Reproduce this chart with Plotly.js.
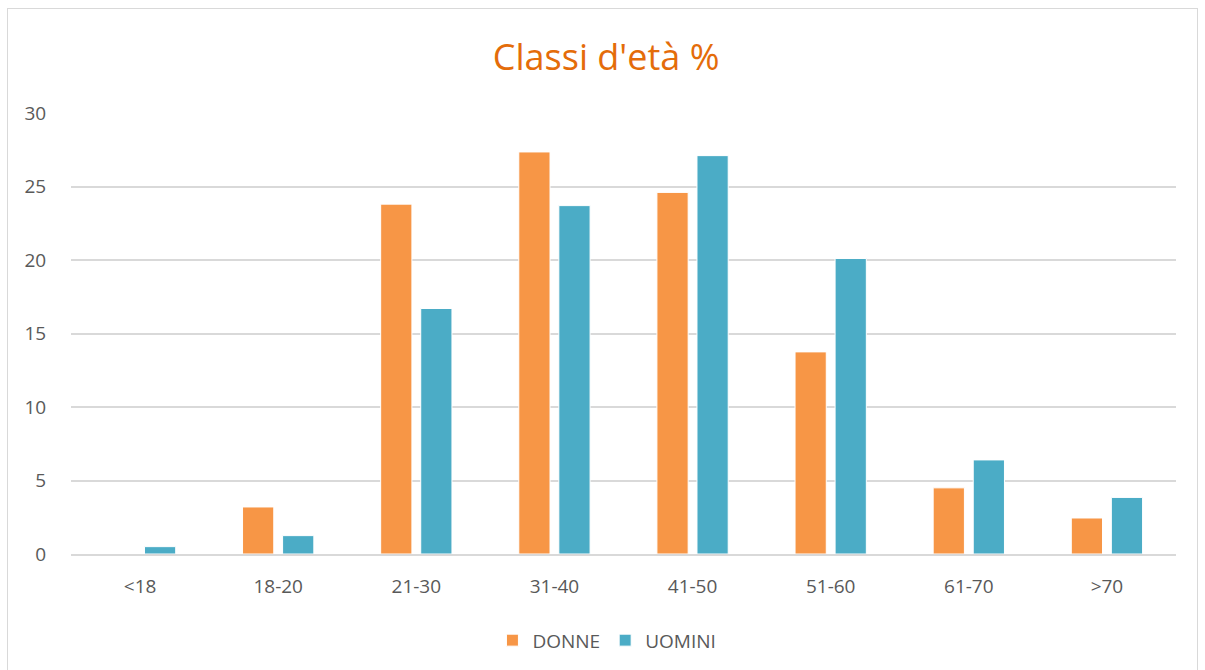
<!DOCTYPE html>
<html>
<head>
<meta charset="utf-8">
<script src="https://cdn.plot.ly/plotly-3.0.1.min.js"></script>
<style>
  html, body { margin: 0; padding: 0; background: #ffffff; }
  #frame { position: absolute; left: 7px; top: 8px; width: 1191px; height: 670px; border: 1px solid #d9d9d9; box-sizing: border-box; }
  #chart { position: absolute; left: 0; top: 0; width: 1205px; height: 670px; }
</style>
</head>
<body>
<div id="frame"></div>
<div id="chart"></div>
<script>
const categories = ["<18", "18-20", "21-30", "31-40", "41-50", "51-60", "61-70", ">70"];
const donne = [0, 3.2, 23.8, 27.35, 24.6, 13.75, 4.5, 2.45];
const uomini = [0.5, 1.25, 16.7, 23.7, 27.1, 20.1, 6.4, 3.85];
const yTicks = [0, 5, 10, 15, 20, 25, 30];

const fontFamily = "'Open Sans', 'Noto Sans', sans-serif";

const traces = [
  { type: 'bar', name: 'DONNE', x: categories, y: donne,
    marker: { color: '#F79646', line: { color: '#ffffff', width: 1 } }, hoverinfo: 'x+y+name' },
  { type: 'bar', name: 'UOMINI', x: categories, y: uomini,
    marker: { color: '#4BACC6', line: { color: '#ffffff', width: 1 } }, hoverinfo: 'x+y+name' }
];

const layout = {
  width: 1205, height: 670,
  paper_bgcolor: 'rgba(0,0,0,0)', plot_bgcolor: 'rgba(0,0,0,0)',
  margin: { l: 71, r: 29, t: 113, b: 115 },
  title: { text: "Classi d'età %", x: 0.503, xref: 'container', y: 0.915, yref: 'container', xanchor: 'center', yanchor: 'middle',
           font: { family: fontFamily, size: 36, color: '#E46C0A' } },
  barmode: 'group', bargap: 0.42, bargroupgap: 0.22,
  font: { family: fontFamily, color: '#595959' },
  xaxis: { type: 'category', showgrid: false, showline: true, linecolor: '#d9d9d9', linewidth: 2,
           ticks: 'outside', ticklen: 14, tickcolor: 'rgba(0,0,0,0)', tickfont: { size: 19, color: '#595959' } },
  yaxis: { range: [0, 30], tickvals: yTicks, ticktext: yTicks.map(String), showgrid: true, gridcolor: '#d9d9d9', gridwidth: 2,
           zeroline: false, showline: false, ticks: 'outside', ticklen: 20, tickcolor: 'rgba(0,0,0,0)',
           tickfont: { size: 19, color: '#595959' } },
  legend: { orientation: 'h', x: 0.485, xanchor: 'center', y: -0.15, yanchor: 'top', font: { size: 19, color: '#595959' },
            traceorder: 'normal', itemwidth: 30 },
  showlegend: true
};

Plotly.newPlot('chart', traces, layout, { displayModeBar: false, staticPlot: true });
</script>
</body>
</html>
